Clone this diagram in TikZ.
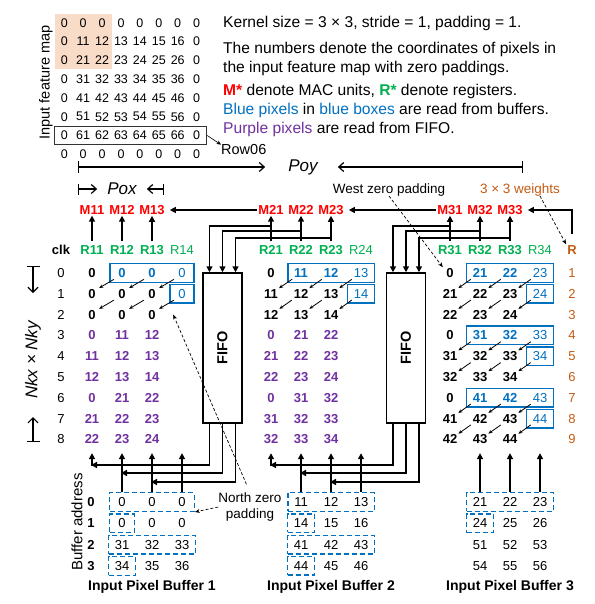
\documentclass[tikz,border=0pt]{standalone}
\usepackage{fontspec}
\setmainfont{Liberation Sans}
\usetikzlibrary{arrows.meta,fit,backgrounds}

\definecolor{macred}{HTML}{FF0000}
\definecolor{reggreen}{HTML}{00B050}
\definecolor{bufblue}{HTML}{0070C0}
\definecolor{fifopurple}{HTML}{7030A0}
\definecolor{wtorange}{HTML}{C55A11}
\definecolor{peach}{HTML}{F9DCC8}

\tikzset{
  txt/.style={anchor=base west, inner sep=0pt, font=\fontsize{15.6}{18}\selectfont},
  mat/.style={inner sep=1pt, minimum width=14pt, font=\fontsize{12.5}{13}\selectfont},
  hdr/.style={inner sep=1pt, font=\fontsize{13}{13}\selectfont\bfseries},
  hdrthin/.style={inner sep=1pt, font=\fontsize{13}{13}\selectfont},
  pix/.style={inner sep=1pt, minimum width=14pt, font=\fontsize{13}{13}\selectfont\bfseries},
  pixthin/.style={inner sep=1pt, minimum width=14pt, font=\fontsize{13}{13}\selectfont},
  dimtxt/.style={inner sep=0pt, font=\fontsize{17}{17}\selectfont\itshape},
  dimline/.style={line width=1.2pt},
  note/.style={inner sep=0pt, font=\fontsize{13.5}{16}\selectfont},
  notearr/.style={line width=0.7pt, dash pattern=on 3pt off 2pt, -{Stealth[length=5pt,width=4pt]}},
  wire/.style={line width=1.5pt, -{Triangle[length=6pt,width=6pt]}},
  shiftarr/.style={line width=0.8pt, -{Stealth[length=4pt,width=3.5pt]}, shorten <=1pt},
  bluebox/.style={draw=bufblue, line width=1.5pt, inner xsep=5pt, inner ysep=3.5pt},
  bufbox/.style={draw=bufblue, line width=1.3pt, dash pattern=on 5pt off 3pt, inner xsep=5pt, inner ysep=3.5pt},
  fifo/.style={draw, line width=1.5pt, minimum width=39pt, minimum height=150pt, inner sep=0pt},
}

\begin{document}
\begin{tikzpicture}[x=1pt,y=-1pt]
\useasboundingbox (0,0) rectangle (594,604);

% input feature map with zero padding
\foreach \j in {0,...,7} {
  \node[mat] (m0\j) at ({64.3+18.9*\j},22.7) {0};
  \node[mat] (m7\j) at ({64.3+18.9*\j},154.3) {0};
}
\foreach \i in {1,...,6} {
  \node[mat] (m\i0) at (64.3,{22.7+18.8*\i}) {0};
  \node[mat] (m\i7) at (196.6,{22.7+18.8*\i}) {0};
  \foreach \j in {1,...,6}
    \node[mat] (m\i\j) at ({64.3+18.9*\j},{22.7+18.8*\i}) {\i\j};
}
\begin{scope}[on background layer]
  \node[fill=peach, inner xsep=2pt, inner ysep=3.5pt, fit=(m00)(m22)] (win) {};
\end{scope}
\node[draw=black!80, line width=0.8pt, inner xsep=3pt, inner ysep=3.5pt, fit=(m60)(m67)] (row6box) {};
\node[anchor=west, inner sep=0pt, font=\fontsize{14.5}{15}\selectfont] (row6) at (221,150) {Row06};
\draw[line width=0.6pt, -{Stealth[length=4.5pt,width=4pt]}] (row6box.east) -- (row6.north west);
\node[rotate=90, font=\fontsize{14.5}{15}\selectfont] (ifm) at (46,82.5) {Input feature map};

% legend text
\node[txt] (t1) at (223,27.3) {Kernel size = 3 × 3, stride = 1, padding = 1.};
\node[txt] (t2) at (223,54) {The numbers denote the coordinates of pixels in};
\node[txt] (t3) at (223,73) {the input feature map with zero paddings.};
\node[txt] (t4) at (223,95.7) {\textcolor{macred}{\bfseries M*} denote MAC units, \textcolor{reggreen}{\bfseries R*} denote registers.};
\node[txt] (t5) at (223,115) {\textcolor{bufblue}{Blue pixels} in \textcolor{bufblue}{blue boxes} are read from buffers.};
\node[txt] (t6) at (223,133.3) {\textcolor{fifopurple}{Purple pixels} are read from FIFO.};

% Poy and Pox
\coordinate (poyl) at (78,167);
\coordinate (poyr) at (523,167);
\node[dimtxt] (poy) at (303,167) {Poy};
\draw[dimline, {Bar[width=11pt]}-{Straight Barb[length=5pt,width=9pt]}] (poyl) -- ([xshift=-23pt]poy.west);
\draw[dimline, {Bar[width=11pt]}-{Straight Barb[length=5pt,width=9pt]}] (poyr) -- ([xshift=20pt]poy.east);
\coordinate (poxl) at (78,189);
\coordinate (poxr) at (164,189);
\node[dimtxt] (pox) at (122,189) {Pox};
\draw[dimline, {Bar[width=11pt]}-{Straight Barb[length=5pt,width=9pt]}] (poxl) -- ([xshift=-10pt]pox.west);
\draw[dimline, {Bar[width=11pt]}-{Straight Barb[length=5pt,width=9pt]}] (poxr) -- ([xshift=10pt]pox.east);

% Nkx x Nky
\node[dimtxt, rotate=90] (nk) at (33,360) {Nkx × Nky};
\coordinate (nkt) at (33,266);
\coordinate (nkt2) at (33,293);
\coordinate (nkb) at (33,442);
\coordinate (nkb2) at (33,417);
\draw[dimline, {Bar[width=13pt]}-{Straight Barb[length=5pt,width=10pt]}] (nkt) -- (nkt2);
\draw[dimline, {Bar[width=13pt]}-{Straight Barb[length=5pt,width=10pt]}] (nkb) -- (nkb2);

% MAC units and registers
\node[hdr] (clk) at (61,250) {clk};
\foreach \g in {1,2,3} {
  \foreach \col in {1,2,3} {
    \node[hdr, macred] (M\g\col) at ({179*\g-117+30*\col},210) {M\g\col};
    \node[hdr, reggreen] (R\g\col) at ({179*\g-117+30*\col},250) {R\g\col};
  }
  \node[hdrthin, reggreen] (R\g4) at ({179*\g+3},250) {R\g4};
}
\node[hdr, wtorange] (Rw) at (572,250) {R};
\foreach \row [evaluate=\row as \rr using int(\row+1)] in {0,...,8} {
  \node[pixthin] (clk\row) at (61,{273+20.8*\row}) {\row};
  \node[pixthin, wtorange] (w\row) at (572,{273+20.8*\row}) {\rr};
}

% rows read from buffers
\foreach \g/\row/\va/\vb/\vc in {1/0/0/0/0, 2/0/11/12/13, 3/0/21/22/23, 3/3/31/32/33, 3/6/41/42/43} {
  \node[pix] (g\g-\row-1) at ({179*\g-87},{273+20.8*\row}) {0};
  \node[pix, bufblue] (g\g-\row-2) at ({179*\g-57},{273+20.8*\row}) {\va};
  \node[pix, bufblue] (g\g-\row-3) at ({179*\g-27},{273+20.8*\row}) {\vb};
  \node[pixthin, bufblue] (g\g-\row-4) at ({179*\g+3},{273+20.8*\row}) {\vc};
  \node[bluebox, fit=(g\g-\row-2)(g\g-\row-4)] (box\g-\row) {};
}
\foreach \g/\row/\va/\vb/\vc/\vd in {1/1/0/0/0/0, 2/1/11/12/13/14, 3/1/21/22/23/24, 3/4/31/32/33/34, 3/7/41/42/43/44} {
  \node[pix] (g\g-\row-1) at ({179*\g-87},{273+20.8*\row}) {\va};
  \node[pix] (g\g-\row-2) at ({179*\g-57},{273+20.8*\row}) {\vb};
  \node[pix] (g\g-\row-3) at ({179*\g-27},{273+20.8*\row}) {\vc};
  \node[pixthin, bufblue] (g\g-\row-4) at ({179*\g+3},{273+20.8*\row}) {\vd};
  \node[bluebox, fit=(g\g-\row-4)] (box\g-\row) {};
}
\foreach \g/\row/\va/\vb/\vc in {1/2/0/0/0, 2/2/12/13/14, 3/2/22/23/24, 3/5/32/33/34, 3/8/42/43/44} {
  \node[pix] (g\g-\row-1) at ({179*\g-87},{273+20.8*\row}) {\va};
  \node[pix] (g\g-\row-2) at ({179*\g-57},{273+20.8*\row}) {\vb};
  \node[pix] (g\g-\row-3) at ({179*\g-27},{273+20.8*\row}) {\vc};
}
% rows read from FIFO
\foreach \g/\row/\va/\vb/\vc in {1/3/0/11/12, 1/4/11/12/13, 1/5/12/13/14, 1/6/0/21/22, 1/7/21/22/23, 1/8/22/23/24,
    2/3/0/21/22, 2/4/21/22/23, 2/5/22/23/24, 2/6/0/31/32, 2/7/31/32/33, 2/8/32/33/34} {
  \node[pix, fifopurple] (g\g-\row-1) at ({179*\g-87},{273+20.8*\row}) {\va};
  \node[pix, fifopurple] (g\g-\row-2) at ({179*\g-57},{273+20.8*\row}) {\vb};
  \node[pix, fifopurple] (g\g-\row-3) at ({179*\g-27},{273+20.8*\row}) {\vc};
}
% shifting between registers
\foreach \g/\row in {1/0, 1/1, 2/0, 2/1, 3/0, 3/1, 3/3, 3/4, 3/6, 3/7} {
  \pgfmathtruncatemacro\rown{\row+1}
  \foreach \col [evaluate=\col as \coln using int(\col+1)] in {1,2,3}
    \draw[shiftarr] (g\g-\row-\coln.south west) -- (g\g-\rown-\col.north east);
}

% FIFOs
\node[fifo] (fifoA) at (222.5,348) {};
\node[rotate=90, font=\fontsize{14.5}{15}\selectfont\bfseries] (fifoAtxt) at (fifoA.center) {FIFO};
\node[fifo] (fifoB) at (406,348) {};
\node[rotate=90, font=\fontsize{14.5}{15}\selectfont\bfseries] (fifoBtxt) at (fifoB.center) {FIFO};

% wires to MACs and FIFOs
\coordinate (lv1) at (0,226);
\coordinate (lv2) at (0,231);
\coordinate (lv3) at (0,238);
\foreach \col in {1,2,3}
  \draw[wire, shorten <=3pt] (R1\col) -- (M1\col);
\foreach \g/\f in {2/fifoA, 3/fifoB} {
  \foreach \col/\dx in {1/-13, 2/0, 3/13} {
    \draw[wire, shorten <=3pt] (R\g\col) -- (M\g\col);
    \draw[wire] (R\g\col |- lv\col) -| ([xshift=\dx pt]\f.north);
  }
}
\draw[wire, shorten >=4pt] (M21) -- (M13);
\draw[wire, shorten >=4pt] (M31) -- (M23);
\draw[wire, shorten <=10pt, shorten >=4pt] (Rw) |- (M33);

% input pixel buffers
\foreach \a in {0,...,3}
  \node[hdr] (addr\a) at (91,{502+21.3*\a}) {\a};
\foreach \g/\a/\va/\vb/\vc in {1/0/0/0/0, 1/1/0/0/0, 1/2/31/32/33, 1/3/34/35/36,
    2/0/11/12/13, 2/1/14/15/16, 2/2/41/42/43, 2/3/44/45/46,
    3/0/21/22/23, 3/1/24/25/26, 3/2/51/52/53, 3/3/54/55/56} {
  \node[pixthin] (buf\g-\a-1) at ({179*\g-57},{502+21.3*\a}) {\va};
  \node[pixthin] (buf\g-\a-2) at ({179*\g-27},{502+21.3*\a}) {\vb};
  \node[pixthin] (buf\g-\a-3) at ({179*\g+3},{502+21.3*\a}) {\vc};
}
\foreach \g/\a in {1/0, 1/2, 2/0, 2/2, 3/0}
  \node[bufbox, fit=(buf\g-\a-1)(buf\g-\a-3)] (bb\g-\a) {};
\foreach \g/\a in {1/1, 1/3, 2/1, 2/3, 3/1}
  \node[bufbox, fit=(buf\g-\a-1)] (bb\g-\a) {};
\foreach \g in {1,2,3} {
  \node[font=\fontsize{14}{14}\selectfont\bfseries] (lbl\g) at ({179*\g-27},587) {Input Pixel Buffer \g};
  \foreach \k in {1,2,3}
    \draw[wire, shorten >=8pt] (buf\g-0-\k |- bb\g-0.north) -- (buf\g-0-\k |- g\g-8-1.south);
}
\node[rotate=90, font=\fontsize{15}{15}\selectfont] (baddr) at (77,522) {Buffer address};

% FIFO outputs back to the registers
\coordinate (bv1) at (0,465);
\coordinate (bv2) at (0,473);
\coordinate (bv3) at (0,482);
\foreach \g/\f in {1/fifoA, 2/fifoB} {
  \foreach \col/\dx in {1/-13, 2/0, 3/13}
    \draw[wire, shorten >=-1pt] ([xshift=\dx pt]\f.south) |- (g\g-8-\col |- bv\col);
  \draw[wire, shorten <=-0.75pt, shorten >=8pt] (g\g-8-1 |- bv1) -- (g\g-8-1.south);
}

% notes
\node[note, anchor=base] (westpad) at (389,193) {West zero padding};
\draw[notearr] (westpad.south) -- (g3-0-1.north west);
\node[note, anchor=base, text=wtorange] (wts) at (520,193) {3 × 3 weights};
\draw[notearr] ([xshift=20pt]wts.south) -- (Rw.north west);
\node[note, align=center, anchor=north] (northpad) at (250,492.5) {North zero\\padding};
\draw[notearr, shorten <=9pt] (northpad.north) -- ([xshift=14pt]g1-2-3.east);
\draw[notearr] (northpad.west) -- (bb1-0.south east);
\end{tikzpicture}
\end{document}
